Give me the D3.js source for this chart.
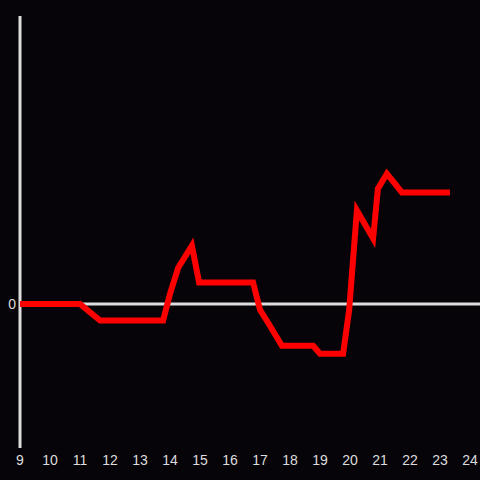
<!DOCTYPE html>
<meta charset="utf-8">
<style>
body { margin: 0; background: #060409; }
text { font-family: "Liberation Sans", Arial, sans-serif; font-size: 14px; fill: #dddddd; }
</style>
<svg width="480" height="480"></svg>
<script src="https://d3js.org/d3.v7.min.js"></script>
<script>

var svg = d3.select("svg"),
    width = +svg.attr("width"),
    height = +svg.attr("height");

// hours of the day and the value at each vertex of the line
var hours  = [9, 11, 11.67, 13.77, 14, 14.27, 14.73, 14.97, 16.77, 17, 17.27, 17.73, 18.77, 19, 19.77, 19.97, 20.23, 20.77, 20.93, 21.23, 21.73, 23.33];
var values = [0, 0, -1.15, -1.15, 0.7, 2.5, 4.05, 1.5, 1.5, -0.4, -1.3, -2.9, -2.9, -3.45, -3.45, -0.45, 6.5, 4.55, 8.0, 9.05, 7.75, 7.75];
var xTicks = [9, 10, 11, 12, 13, 14, 15, 16, 17, 18, 19, 20, 21, 22, 23, 24];
var yTicks = [0];

svg.append("rect")
   .attr("width", "100%")
   .attr("height", "100%")
   .attr("fill", "#060409");

var x = d3.scaleLinear().domain([9, 24]).range([20, 470]);
var y = d3.scaleLinear().domain([-10, 20]).range([448, 16]);

// zero line
svg.append("line")
   .attr("x1", 20).attr("x2", width)
   .attr("y1", y(0)).attr("y2", y(0))
   .style("stroke", "#dddddd")
   .style("stroke-width", 3);

// y axis line
svg.append("line")
   .attr("x1", 20).attr("x2", 20)
   .attr("y1", 16).attr("y2", 448)
   .style("stroke", "#dddddd")
   .style("stroke-width", 3);

svg.selectAll(".xlabel")
   .data(xTicks)
   .enter()
   .append("text")
   .attr("class", "xlabel")
   .attr("x", function(d) { return x(d); })
   .attr("y", 465)
   .attr("text-anchor", "middle")
   .text(function(d) { return d; });

svg.selectAll(".ylabel")
   .data(yTicks)
   .enter()
   .append("text")
   .attr("class", "ylabel")
   .attr("x", 16)
   .attr("y", function(d) { return y(d) + 5; })
   .attr("text-anchor", "end")
   .text(function(d) { return d; });

var line = d3.line()
    .x(function(d, i) { return x(hours[i]); })
    .y(function(d) { return y(d); });

svg.append("path")
   .datum(values)
   .attr("d", line)
   .style("fill", "none")
   .style("stroke", "#ff0000")
   .style("stroke-width", 6)
   .style("stroke-linejoin", "miter");

</script>
